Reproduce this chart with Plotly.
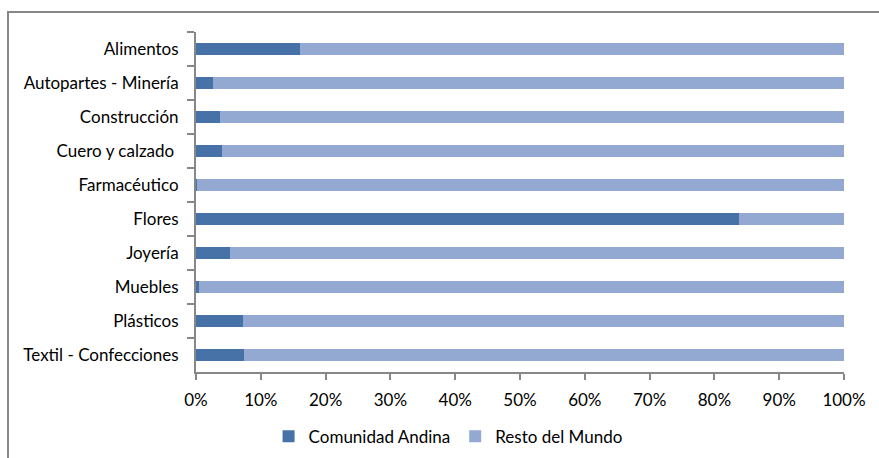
import plotly.graph_objects as go

sectores = ['Alimentos', 'Autopartes - Minería', 'Construcción', 'Cuero y calzado ',
            'Farmacéutico', 'Flores', 'Joyería', 'Muebles', 'Plásticos',
            'Textil - Confecciones']
comunidad_andina = [16.0, 2.6, 3.7, 4.0, 0.2, 83.8, 5.2, 0.5, 7.2, 7.4]
resto_mundo = [100 - v for v in comunidad_andina]

_CAN = '#4672A7'
_RDM = '#94A9D1'
_AX = '#878787'

fig = go.Figure()
fig.add_trace(go.Bar(y=sectores, x=comunidad_andina, orientation='h',
                     name='Comunidad Andina', marker=dict(color=_CAN, line=dict(width=0))))
fig.add_trace(go.Bar(y=sectores, x=resto_mundo, orientation='h',
                     name='Resto del Mundo', marker=dict(color=_RDM, line=dict(width=0))))

# marco del área del gráfico (estilo Excel)
fig.add_shape(type='rect', xref='paper', yref='paper',
              x0=(8 - 196) / 648, x1=1.2, y0=-0.4, y1=1 + 20 / 340,
              line=dict(color=_AX, width=2), fillcolor='rgba(0,0,0,0)', layer='below')

fig.update_layout(
    barmode='stack', bargap=0.62,
    width=879, height=458,
    margin=dict(l=196, r=35, t=32, b=86, autoexpand=False),
    paper_bgcolor='white', plot_bgcolor='white',
    font=dict(family='Lato', size=17, color='#000000'),
    legend=dict(orientation='h', x=0.389, xanchor='center', y=-0.19, yanchor='middle',
                font=dict(size=17), traceorder='normal', itemwidth=30),
    showlegend=True,
)
fig.update_xaxes(range=[0, 100], dtick=10, ticksuffix='%', showgrid=False,
                 showline=True, linecolor=_AX, linewidth=2,
                 ticks='outside', ticklen=6, tickcolor=_AX, tickwidth=2,
                 zeroline=False, ticklabelstandoff=6)
fig.update_yaxes(autorange='reversed', showgrid=False, showline=True,
                 linecolor=_AX, linewidth=2, ticks='outside', ticklen=7,
                 tickcolor=_AX, tickwidth=2, tickson='boundaries',
                 ticklabelstandoff=12)

fig.write_html('out.html', config={'displayModeBar': False},
               post_script="document.body.style.margin='0';")
